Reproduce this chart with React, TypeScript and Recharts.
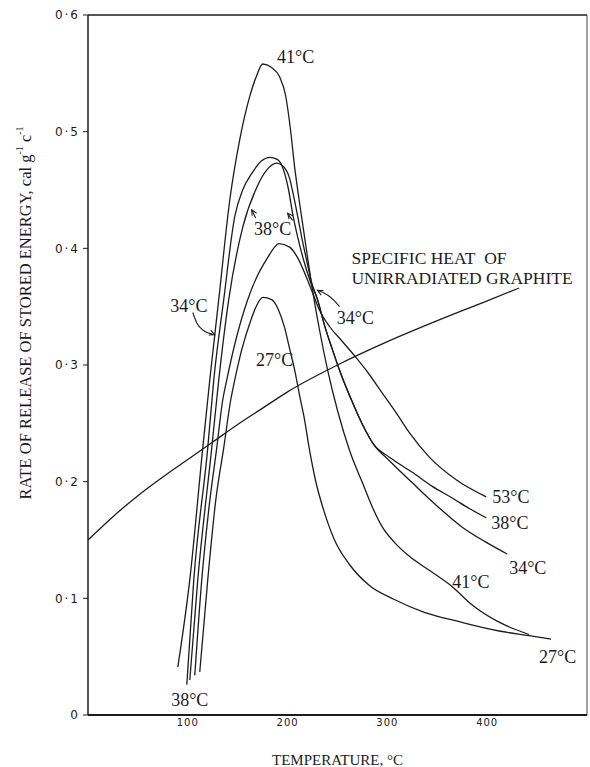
import React from "react";
import { LineChart, Line, XAxis, YAxis, ReferenceLine, ReferenceDot } from "recharts";

type Pt = [number, number];

// temperature (°C) ticks and rate ticks (cal g-1 c-1)
const xTicks = [100, 200, 300, 400];
const yTicks = [0, 0.1, 0.2, 0.3, 0.4, 0.5, 0.6];

// specific heat of unirradiated graphite
const specificHeat: Pt[] = [
  [0, 0.15], [25, 0.17], [50, 0.188], [75, 0.204], [100, 0.219], [125, 0.234], [150, 0.249],
  [175, 0.263], [200, 0.277], [250, 0.3], [300, 0.32], [350, 0.338], [400, 0.355], [432, 0.366],
];

// release curves, by irradiation temperature
const run41: Pt[] = [
  [90, 0.041], [102, 0.116], [115, 0.229], [122, 0.287], [131, 0.356], [142, 0.441], [152, 0.493],
  [162, 0.53], [169, 0.548], [175, 0.558], [184, 0.555], [192, 0.547], [198, 0.531], [203, 0.501],
  [207, 0.47], [213, 0.433], [219, 0.398], [225, 0.364], [232, 0.33], [240, 0.296], [250, 0.261],
  [262, 0.227], [275, 0.199], [285, 0.178], [295, 0.161], [307, 0.148], [322, 0.136], [342, 0.124],
  [365, 0.11], [384, 0.095], [411, 0.08], [442, 0.069],
];

const run34: Pt[] = [
  [99, 0.026], [106, 0.116], [120, 0.229], [126, 0.287], [136, 0.356], [147, 0.427], [155, 0.45],
  [164, 0.464], [174, 0.475], [182, 0.478], [190, 0.476], [196, 0.467], [201, 0.45], [205, 0.43],
  [210, 0.41], [216, 0.39], [223, 0.371], [230, 0.356], [237, 0.334], [245, 0.313], [254, 0.291],
  [264, 0.27], [275, 0.249], [287, 0.231], [302, 0.218], [325, 0.199], [350, 0.179], [375, 0.161],
  [397, 0.149], [420, 0.138],
];

const run38: Pt[] = [
  [102, 0.03], [110, 0.116], [124, 0.229], [131, 0.287], [141, 0.356], [155, 0.418], [169, 0.452],
  [179, 0.467], [189, 0.473], [196, 0.47], [202, 0.46], [206, 0.445], [210, 0.428], [214, 0.41],
  [219, 0.39], [224, 0.371], [230, 0.356], [237, 0.334], [245, 0.313], [254, 0.291], [264, 0.27],
  [275, 0.249], [287, 0.231], [302, 0.221], [325, 0.208], [345, 0.196], [365, 0.186], [382, 0.177],
  [399, 0.169],
];

const run53: Pt[] = [
  [107, 0.034], [114, 0.116], [121, 0.176], [129, 0.229], [135, 0.27], [139, 0.287], [148, 0.321],
  [160, 0.356], [170, 0.377], [180, 0.392], [187, 0.401], [191, 0.404], [202, 0.401], [210, 0.392],
  [218, 0.377], [225, 0.362], [232, 0.347], [242, 0.333], [254, 0.321], [267, 0.308], [280, 0.294],
  [294, 0.277], [308, 0.26], [322, 0.242], [342, 0.221], [370, 0.201], [399, 0.187],
];

const run27: Pt[] = [
  [112, 0.037], [120, 0.116], [128, 0.184], [136, 0.229], [143, 0.27], [147, 0.287], [154, 0.313],
  [163, 0.338], [169, 0.351], [175, 0.358], [184, 0.356], [191, 0.347], [197, 0.332], [202, 0.314],
  [207, 0.296], [212, 0.274], [217, 0.253], [222, 0.227], [228, 0.201], [236, 0.176], [247, 0.15],
  [262, 0.129], [282, 0.111], [307, 0.099], [337, 0.088], [372, 0.08], [412, 0.072], [442, 0.068],
  [464, 0.065],
];

// little pointer arrows beside the labels
const arrow34Left: Pt[] = [[105, 0.345], [109, 0.336], [115, 0.33], [127, 0.326]];
const arrow34Right: Pt[] = [[230, 0.364], [240, 0.36], [247, 0.355], [252, 0.35]];
const arrow38Left: Pt[] = [[164, 0.433], [168, 0.426]];
const arrow38Right: Pt[] = [[200, 0.43], [205, 0.424]];

// text written on the plot, at its data position
const curveLabels = [
  { text: "41°C", t: 208, v: 0.564, anchor: "middle" },
  { text: "38°C", t: 185, v: 0.417, anchor: "middle" },
  { text: "34°C", t: 101, v: 0.351, anchor: "middle" },
  { text: "34°C", t: 268, v: 0.34, anchor: "middle" },
  { text: "27°C", t: 187, v: 0.304, anchor: "middle" },
  { text: "53°C", t: 405, v: 0.187, anchor: "start" },
  { text: "38°C", t: 404, v: 0.165, anchor: "start" },
  { text: "34°C", t: 422, v: 0.126, anchor: "start" },
  { text: "41°C", t: 365, v: 0.114, anchor: "start" },
  { text: "27°C", t: 452, v: 0.05, anchor: "start" },
  { text: "38°C", t: 102, v: 0.013, anchor: "middle" },
  { text: "SPECIFIC HEAT\u00a0 OF", t: 264, v: 0.392, anchor: "start" },
  { text: "UNIRRADIATED GRAPHITE", t: 264, v: 0.375, anchor: "start" },
];

const INK = "#1c1c1c";
const SERIF = "'Liberation Serif', 'Times New Roman', serif";

const rows = (pts: Pt[]) => pts.map(([t, v]) => ({ t, v }));

function arrowDot(tipIndex: number, angleDeg: number) {
  return (p: any) => {
    if (p.index !== tipIndex) return <g key={p.index} />;
    const a = (angleDeg * Math.PI) / 180;
    const len = 6;
    const s = 0.45;
    const x1 = p.cx - len * Math.cos(a - s);
    const y1 = p.cy - len * Math.sin(a - s);
    const x2 = p.cx - len * Math.cos(a + s);
    const y2 = p.cy - len * Math.sin(a + s);
    return (
      <path
        key={p.index}
        d={`M${x1},${y1} L${p.cx},${p.cy} L${x2},${y2}`}
        fill="none"
        stroke={INK}
        strokeWidth={1.1}
      />
    );
  };
}

const curves = [specificHeat, run41, run34, run38, run53, run27];

const arrows = [
  { pts: arrow34Left, tip: 3, angle: 22 },
  { pts: arrow34Right, tip: 0, angle: -153 },
  { pts: arrow38Left, tip: 0, angle: -120 },
  { pts: arrow38Right, tip: 0, angle: -130 },
];

const fmtY = (v: number) => (v === 0 ? "0" : `0·${Math.round(v * 10)}`);

export default function App() {
  return (
    <div style={{ position: "absolute", left: 0, top: 0, background: "#fff" }}>
      <LineChart width={590} height={767} margin={{ top: 15, right: 3, bottom: 22, left: 0 }}>
        <XAxis
          dataKey="t"
          type="number"
          domain={[0, 500]}
          ticks={xTicks}
          allowDataOverflow
          height={30}
          axisLine={{ stroke: INK, strokeWidth: 2 }}
          tickLine={false}
          tickSize={0}
          tickMargin={4}
          tick={{ fill: INK, fontSize: 10, fontFamily: "'DejaVu Sans', sans-serif", letterSpacing: 1 }}
          label={(p: any) => (
            <text
              x={p.viewBox.x + p.viewBox.width / 2}
              y={p.viewBox.y + 45}
              textAnchor="middle"
              dominantBaseline="central"
              fontFamily={SERIF}
              fontSize={15}
              fill={INK}
            >
              TEMPERATURE, °C
            </text>
          )}
        />
        <YAxis
          dataKey="v"
          type="number"
          domain={[0, 0.6]}
          ticks={yTicks}
          allowDataOverflow
          width={88}
          axisLine={{ stroke: INK, strokeWidth: 1.5 }}
          tickLine={{ stroke: INK }}
          tickSize={5}
          tickMargin={3}
          tickFormatter={fmtY}
          tick={{ fill: INK, fontSize: 12, fontFamily: "'DejaVu Sans', sans-serif", letterSpacing: 2 }}
          label={(p: any) => {
            const cx = p.viewBox.x + 25;
            const cy = p.viewBox.y + 298;
            return (
              <text
                x={cx}
                y={cy}
                transform={`rotate(-90 ${cx} ${cy})`}
                textAnchor="middle"
                dominantBaseline="central"
                fontFamily={SERIF}
                fontSize={16.5}
                fill={INK}
              >
                RATE OF RELEASE OF STORED ENERGY, cal g
                <tspan dy={-6} fontSize={10}>-1</tspan>
                <tspan dy={6}> c</tspan>
                <tspan dy={-6} fontSize={10}>-1</tspan>
              </text>
            );
          }}
        />
        <ReferenceLine y={0.6} stroke={INK} strokeWidth={1.5} />
        <ReferenceLine x={500} stroke="#444" strokeWidth={1} />

        {curves.map((c, i) => (
          <Line
            key={i}
            data={rows(c)}
            dataKey="v"
            type="monotone"
            stroke={INK}
            strokeWidth={1.3}
            dot={false}
            activeDot={false}
            isAnimationActive={false}
          />
        ))}

        {arrows.map((a, i) => (
          <Line
            key={`a${i}`}
            data={rows(a.pts)}
            dataKey="v"
            type="monotone"
            stroke={INK}
            strokeWidth={1.1}
            dot={arrowDot(a.tip, a.angle)}
            activeDot={false}
            isAnimationActive={false}
          />
        ))}

        {curveLabels.map((l, i) => (
          <ReferenceDot
            key={`l${i}`}
            x={l.t}
            y={l.v}
            r={0}
            fill="none"
            stroke="none"
            label={(p: any) => (
              <text
                x={p.viewBox.x + p.viewBox.width / 2}
                y={p.viewBox.y + p.viewBox.height / 2}
                textAnchor={l.anchor}
                dominantBaseline="central"
                fontFamily={SERIF}
                fontSize={l.text.length > 6 ? 17.5 : 18}
                fill={INK}
                style={{ whiteSpace: "pre" }}
              >
                {l.text}
              </text>
            )}
          />
        ))}
      </LineChart>
    </div>
  );
}
